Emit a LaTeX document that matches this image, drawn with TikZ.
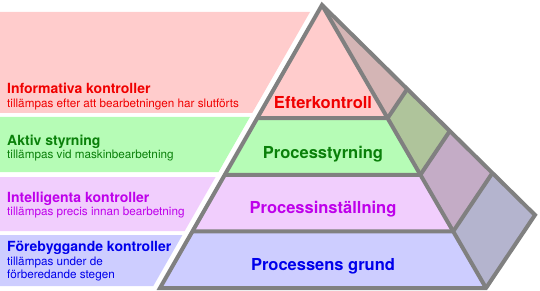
\documentclass[tikz,border=0pt]{standalone}
\usepackage{fontspec}
\setmainfont{TeX Gyre Heros}
\usetikzlibrary{calc,positioning}

\definecolor{redband}{RGB}{255,204,204}
\definecolor{greenband}{RGB}{182,252,182}
\definecolor{violetband}{RGB}{241,206,253}
\definecolor{blueband}{RGB}{205,205,255}
\definecolor{redside}{RGB}{212,181,181}
\definecolor{greenside}{RGB}{175,196,155}
\definecolor{violetside}{RGB}{196,172,198}
\definecolor{blueside}{RGB}{180,180,206}
\definecolor{redtext}{RGB}{240,0,0}
\definecolor{greentext}{RGB}{10,128,10}
\definecolor{violettext}{RGB}{190,0,235}
\definecolor{bluetext}{RGB}{0,0,235}
\definecolor{pyrgray}{RGB}{128,128,128}

\tikzset{pyrline/.style={draw=pyrgray, line width=4pt}}
\tikzset{heading/.style={anchor=base west, inner sep=0pt,
    font=\fontsize{14}{16}\selectfont\bfseries}}
\tikzset{subline/.style={anchor=base west, inner sep=0pt,
    font=\fontsize{11.7}{13.3}\selectfont}}
\tikzset{layertext/.style={anchor=base, inner sep=0pt,
    font=\fontsize{16.5}{19}\selectfont\bfseries}}

\begin{document}
\begin{tikzpicture}[x=1pt,y=-1pt]
  \useasboundingbox (0,0) rectangle (540,291);
  % corners of the pyramid
  \coordinate (top) at (322,5);
  \coordinate (botleft) at (160,288);
  \coordinate (botright) at (486,288);
  \coordinate (back) at (535,215);
  % layer limits on the three edges
  \foreach \i/\t in {1/0.4,2/0.6,3/0.8}{
    \coordinate (l\i) at ($(top)!\t!(botleft)$);
    \coordinate (r\i) at ($(top)!\t!(botright)$);
    \coordinate (b\i) at ($(top)!\t!(back)$);
  }
  % bands on the left
  \fill[redband] (0,12) -- (310,12) -- (252.2,113) -- (0,113) -- cycle;
  \fill[greenband] (0,117) -- (249.9,117) -- (218.5,172) -- (0,172) -- cycle;
  \fill[violetband] (0,177) -- (215.6,177) -- (184.7,231) -- (0,231) -- cycle;
  \fill[blueband] (0,235) -- (182.4,235) -- (153.3,286) -- (0,286) -- cycle;
  % front face
  \fill[redband] (top) -- (l1) -- (r1) -- cycle;
  \fill[greenband] (l1) -- (l2) -- (r2) -- (r1) -- cycle;
  \fill[violetband] (l2) -- (l3) -- (r3) -- (r2) -- cycle;
  \fill[blueband] (l3) -- (botleft) -- (botright) -- (r3) -- cycle;
  % side face
  \fill[redside] (top) -- (r1) -- (b1) -- cycle;
  \fill[greenside] (r1) -- (r2) -- (b2) -- (b1) -- cycle;
  \fill[violetside] (r2) -- (r3) -- (b3) -- (b2) -- cycle;
  \fill[blueside] (r3) -- (botright) -- (back) -- (b3) -- cycle;
  % outlines
  \draw[pyrline] (top) -- (botleft) -- (botright) -- (back) -- cycle;
  \draw[pyrline] (top) -- (botright);
  \foreach \i in {1,2,3}
    \draw[pyrline] (l\i) -- (r\i) -- (b\i);

  \node[heading, text=redtext] (infohead) at (7,94) {Informativa kontroller};
  \node[subline, text=redtext] (infosub) at (7,107.3)
    {tillämpas efter att bearbetningen har slutförts};
  \node[heading, text=greentext] (aktivhead) at (7,145.5) {Aktiv styrning};
  \node[subline, text=greentext] (aktivsub) at (7,158.8)
    {tillämpas vid maskinbearbetning};
  \node[heading, text=violettext] (intellhead) at (7,202.5) {Intelligenta kontroller};
  \node[subline, text=violettext] (intellsub) at (7,215.5)
    {tillämpas precis innan bearbetning};
  \node[heading, text=bluetext] (forebhead) at (7,251.7) {Förebyggande kontroller};
  \node[subline, text=bluetext] (forebsub) at (7,265) {tillämpas under de};
  \node[subline, text=bluetext] (forebsub2) at (7,278.3) {förberedande stegen};

  \node[layertext, text=redtext] (efter) at (323,108.3) {Efterkontroll};
  \node[layertext, text=greentext] (styr) at (323,158.3) {Processtyrning};
  \node[layertext, text=violettext] (installn) at (323,213.3) {Processinställning};
  \node[layertext, text=bluetext] (grund) at (323,270) {Processens grund};
\end{tikzpicture}
\end{document}
